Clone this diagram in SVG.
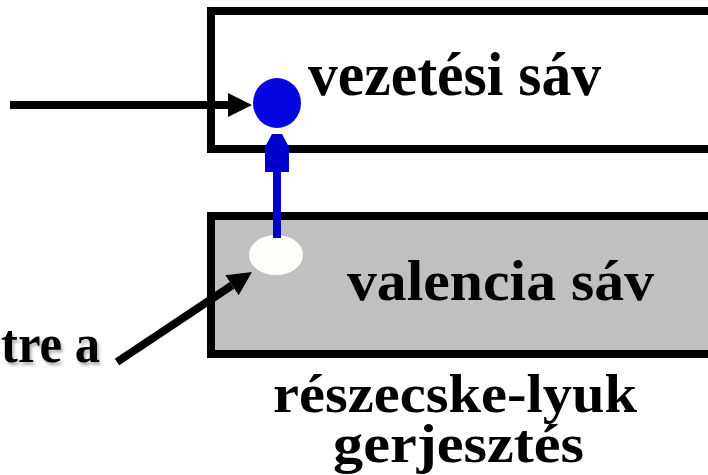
<svg xmlns="http://www.w3.org/2000/svg" width="708" height="475" viewBox="0 0 708 475">
  <style>
    .band { stroke: #000; stroke-width: 8; }
    .lbl { font-family: "Liberation Serif", "DejaVu Serif", serif; font-weight: bold; fill: #000; }
    .blk { stroke: #000; stroke-width: 8; fill: none; }
  </style>
  <defs>
    <marker id="head" viewBox="0 0 24 24" refX="0" refY="12" markerWidth="24" markerHeight="24" markerUnits="userSpaceOnUse" orient="auto">
      <path d="M0,0 L24,12 L0,24 Z" fill="#000"/>
    </marker>
    <filter id="shadow" x="-10%" y="-20%" width="130%" height="160%">
      <feDropShadow dx="2" dy="3" stdDeviation="1.5" flood-color="#000" flood-opacity="0.3"/>
    </filter>
  </defs>

  <rect width="708" height="475" fill="#fff"/>

  <!-- conduction band -->
  <g id="conduction-band">
    <rect class="band" x="211" y="11" width="520" height="138" fill="#fff"/>
    <text class="lbl" x="308" y="95" font-size="62" textLength="293" lengthAdjust="spacingAndGlyphs">vezetési sáv</text>
  </g>

  <!-- valence band -->
  <g id="valence-band">
    <rect class="band" x="211" y="216" width="520" height="138" fill="#c0c0c0"/>
    <text class="lbl" x="347" y="300" font-size="56" textLength="307" lengthAdjust="spacingAndGlyphs">valencia sáv</text>
  </g>

  <!-- excited electron -->
  <g id="electron">
    <ellipse cx="277" cy="103" rx="24" ry="25" fill="#0606e0"/>
  </g>

  <!-- hole left behind -->
  <g id="hole">
    <ellipse cx="276" cy="255" rx="27" ry="20" fill="#fffffa"/>
  </g>

  <!-- caption -->
  <g id="caption">
    <text class="lbl" x="273" y="412" font-size="55" textLength="364" lengthAdjust="spacingAndGlyphs">részecske-lyuk</text>
    <text class="lbl" x="333" y="462" font-size="54" textLength="251" lengthAdjust="spacingAndGlyphs">gerjesztés</text>
  </g>

  <!-- side label -->
  <g id="side-label">
    <text class="lbl" x="1" y="362" font-size="54" textLength="99" lengthAdjust="spacingAndGlyphs" filter="url(#shadow)">tre a</text>
  </g>

  <!-- connectors -->
  <g id="connectors">
    <line class="blk" x1="10" y1="105" x2="228" y2="105" marker-end="url(#head)"/>
    <line class="blk" x1="117" y1="362" x2="232" y2="285.3" marker-end="url(#head)"/>
    <line x1="277" y1="238" x2="277" y2="168" stroke="#0000cc" stroke-width="8"/>
    <polygon points="272,134 282,134 289,147 289,172 265,172 265,147" fill="#0000cc"/>
  </g>
</svg>
